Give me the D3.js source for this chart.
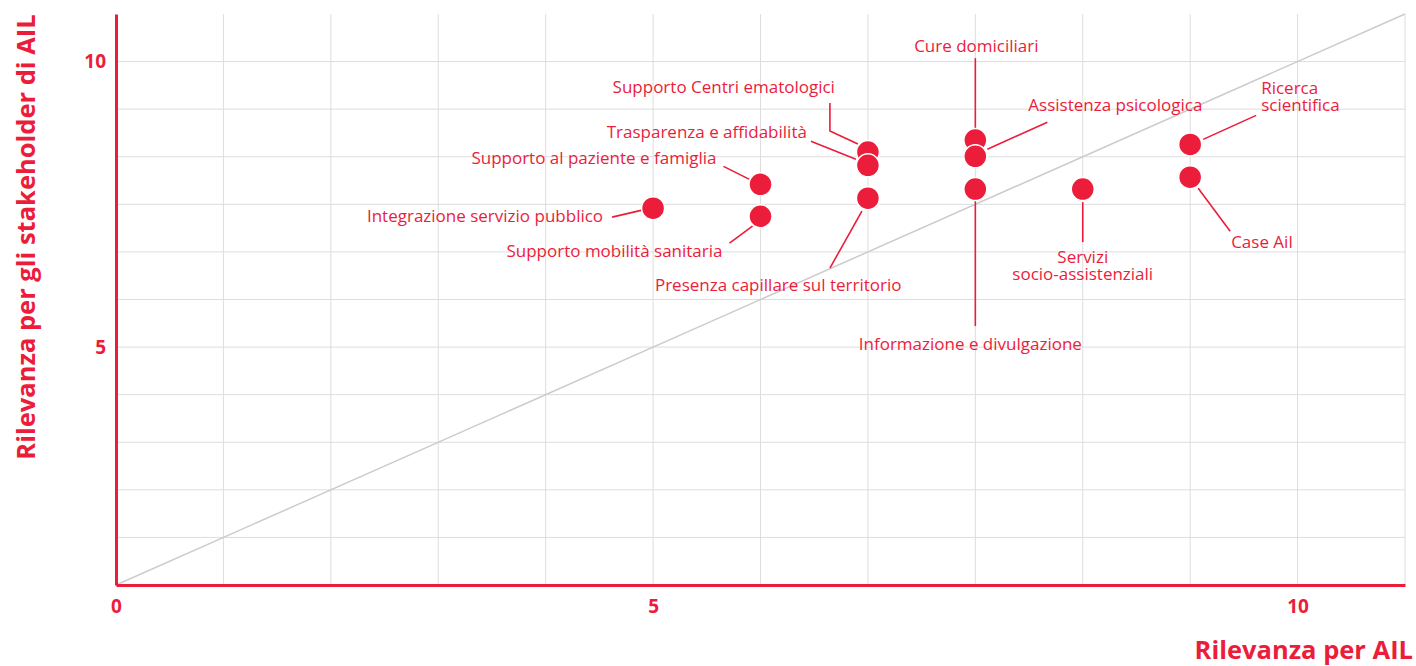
<!DOCTYPE html>
<html>
<head>
<meta charset="utf-8">
<script src="https://cdn.jsdelivr.net/npm/d3@7"></script>
<style>
  body { margin: 0; background: #fff; }
  svg { display: block; font-family: "Open Sans", sans-serif; }
</style>
</head>
<body>
<div id="chart"></div>
<script>
const width = 1416;
const height = 666;
const red = "#ec1c3b";

// data
const labels = [
    "Integrazione servizio pubblico",
    "Supporto mobilità sanitaria",
    "Supporto al paziente e famiglia",
    "Presenza capillare sul territorio",
    "Trasparenza e affidabilità",
    "Supporto Centri ematologici",
    "Cure domiciliari",
    "Assistenza psicologica",
    "Informazione e divulgazione",
    "Servizi\nsocio-assistenziali",
    "Ricerca\nscientifica",
    "Case Ail"
];
const ailValues = [5, 6, 6, 7, 7, 7, 8, 8, 8, 9, 10, 10];
const stakeholderValues = [7.92, 7.75, 8.42, 8.13, 8.82, 9.1, 9.35, 9.01, 8.32, 8.32, 9.26, 8.57];
const tickValues = [0, 5, 11];
const tickLabels = ["0", "5", "10"];

// label placement relative to each point (pixels)
const labelLayout = [
    { dx: -50, dy: 7, anchor: "end", leader: [[-41, 9], [-11, 2]] },
    { dx: -38, dy: 34, anchor: "end", leader: [[-31, 27], [-8, 10]] },
    { dx: -44, dy: -27, anchor: "end", leader: [[-37, -18], [-11, -5]] },
    { dx: -213, dy: 86, anchor: "start", leader: [[-38, 70], [-6, 13]] },
    { dx: -61, dy: -34, anchor: "end", leader: [[-57, -24], [-12, -6]] },
    { dx: -33, dy: -66, anchor: "end", leader: [[-38, -49], [-38, -21], [-10, -8]] },
    { dx: 1, dy: -95, anchor: "middle", leader: [[0, -82], [0, -12]] },
    { dx: 53, dy: -52, anchor: "start", leader: [[12, -7], [72, -34]] },
    { dx: -5, dy: 154, anchor: "middle", leader: [[0, 12], [0, 137]] },
    { dx: 0, dy: 66.5, anchor: "middle", leader: [[0, 13], [0, 53]] },
    { dx: 71, dy: -57.5, anchor: "start", leader: [[13, -5], [66, -29]] },
    { dx: 41, dy: 64, anchor: "start", leader: [[8, 11], [40, 54]] }
];

const points = labels.map((name, i) => ({
    name: name,
    x: ailValues[i],
    y: stakeholderValues[i],
    layout: labelLayout[i]
}));

const svg = d3.select("#chart").append("svg")
    .attr("width", width)
    .attr("height", height);

const xScale = d3.scaleLinear().domain([0, 12]).range([116, 1405]);
const yScale = d3.scaleLinear().domain([0, 12]).range([585, 14]);

// grid
svg.append("g")
    .selectAll("line")
    .data(d3.range(1, 13))
    .join("line")
    .attr("x1", d => xScale(d))
    .attr("x2", d => xScale(d))
    .attr("y1", yScale(12))
    .attr("y2", yScale(0))
    .attr("stroke", "#dddddd")
    .attr("stroke-width", 1);

svg.append("g")
    .selectAll("line")
    .data(d3.range(1, 12))
    .join("line")
    .attr("x1", xScale(0))
    .attr("x2", xScale(12))
    .attr("y1", d => yScale(d))
    .attr("y2", d => yScale(d))
    .attr("stroke", "#dddddd")
    .attr("stroke-width", 1);

// diagonal y = x
svg.append("line")
    .attr("x1", xScale(0))
    .attr("y1", yScale(0))
    .attr("x2", xScale(12))
    .attr("y2", yScale(12))
    .attr("stroke", "#cccccc")
    .attr("stroke-width", 1.5);

// axes
const xAxis = d3.axisBottom(xScale)
    .tickValues(tickValues)
    .tickFormat((d, i) => tickLabels[i])
    .tickSize(0)
    .tickPadding(15);

const yAxis = d3.axisLeft(yScale)
    .tickValues(tickValues.slice(1))
    .tickFormat((d, i) => tickLabels[i + 1])
    .tickSize(0)
    .tickPadding(10);

const gx = svg.append("g")
    .attr("transform", `translate(0,${yScale(0)})`)
    .call(xAxis);

const gy = svg.append("g")
    .attr("transform", `translate(${xScale(0)},0)`)
    .call(yAxis);

[gx, gy].forEach(g => {
    g.select(".domain").attr("stroke", red).attr("stroke-width", 3);
    g.selectAll("text")
        .attr("fill", red)
        .attr("font-size", "19px")
        .attr("font-weight", "bold")
        .attr("font-family", "Open Sans, sans-serif");
});

// axis titles
svg.append("text")
    .attr("x", 1413)
    .attr("y", 659)
    .attr("text-anchor", "end")
    .attr("fill", red)
    .attr("font-size", "25.5px")
    .attr("font-weight", "bold")
    .text("Rilevanza per AIL");

svg.append("text")
    .attr("transform", "translate(35,237) rotate(-90)")
    .attr("text-anchor", "middle")
    .attr("fill", red)
    .attr("font-size", "25.5px")
    .attr("font-weight", "bold")
    .text("Rilevanza per gli stakeholder di AIL");

// leader lines
const line = d3.line();
svg.append("g")
    .selectAll("path")
    .data(points)
    .join("path")
    .attr("d", d => line(d.layout.leader.map(p => [xScale(d.x) + p[0], yScale(d.y) + p[1]])))
    .attr("fill", "none")
    .attr("stroke", red)
    .attr("stroke-width", 1.6);

// points, top ones first so lower ones sit over them
svg.append("g")
    .selectAll("circle")
    .data(points.slice().sort((a, b) => b.y - a.y))
    .join("circle")
    .attr("cx", d => xScale(d.x))
    .attr("cy", d => yScale(d.y))
    .attr("r", 11.5)
    .attr("fill", red)
    .attr("stroke", "#fff")
    .attr("stroke-width", 1.5);

// labels
const labelText = svg.append("g")
    .selectAll("text")
    .data(points)
    .join("text")
    .attr("x", d => xScale(d.x) + d.layout.dx)
    .attr("y", d => yScale(d.y) + d.layout.dy)
    .attr("text-anchor", d => d.layout.anchor)
    .attr("dominant-baseline", "central")
    .attr("fill", red)
    .attr("font-size", "17px");

labelText.each(function (d) {
    const parts = d.name.split("\n");
    d3.select(this).selectAll("tspan")
        .data(parts)
        .join("tspan")
        .attr("x", xScale(d.x) + d.layout.dx)
        .attr("dy", (p, i) => i === 0 ? 0 : 17)
        .text(p => p);
});
</script>
</body>
</html>
